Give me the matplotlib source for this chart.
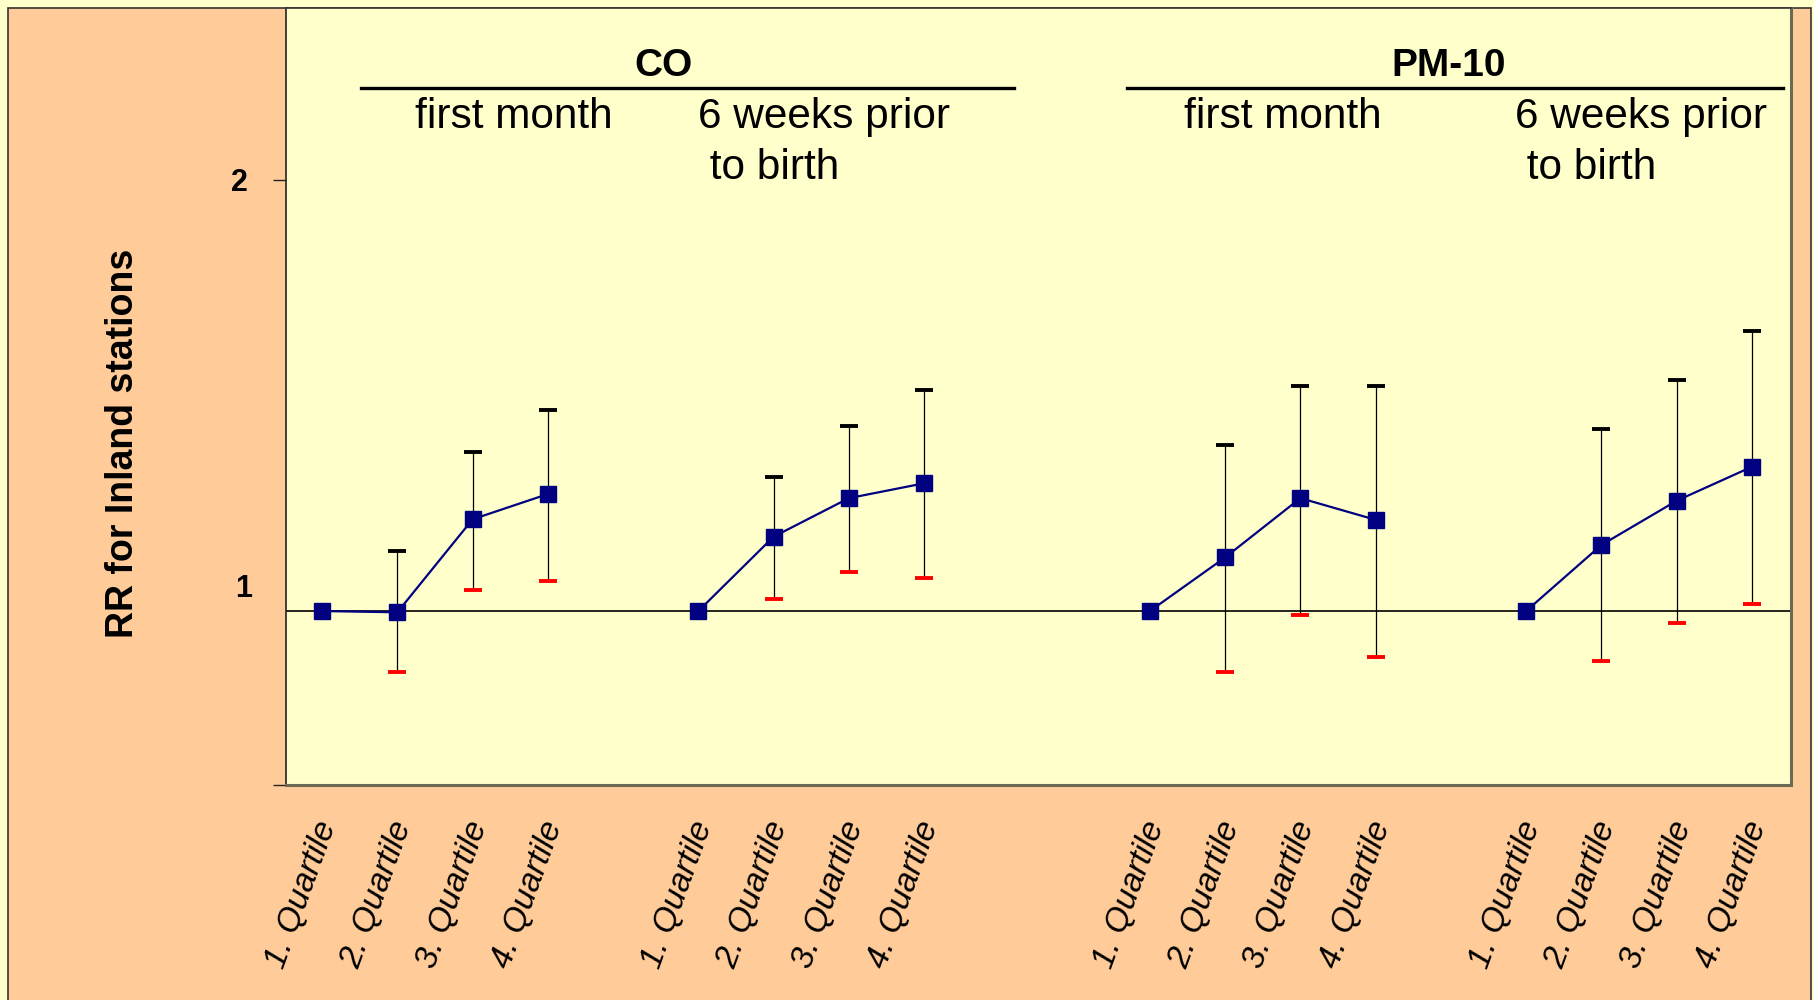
import matplotlib.pyplot as plt
import matplotlib.transforms as mtransforms
from matplotlib.patches import Rectangle
import numpy as np

plt.rcParams['font.family'] = ['Liberation Sans', 'DejaVu Sans']

# data: relative risks with confidence limits, 4 exposure windows x 4 quartiles
x_pos = [0, 1, 2, 3, 5, 6, 7, 8, 11, 12, 13, 14, 16, 17, 18, 19]
quartile_labels = ['1. Quartile', '2. Quartile', '3. Quartile', '4. Quartile'] * 4
rr = [1.00, 0.998, 1.159, 1.207,
      1.00, 1.127, 1.199, 1.228,
      1.00, 1.090, 1.199, 1.158,
      1.00, 1.112, 1.194, 1.261]
upper = [np.nan, 1.101, 1.292, 1.382,
         np.nan, 1.241, 1.346, 1.426,
         np.nan, 1.305, 1.435, 1.435,
         np.nan, 1.341, 1.450, 1.568]
lower = [np.nan, 0.907, 1.035, 1.050,
         np.nan, 1.019, 1.065, 1.054,
         np.nan, 0.907, 0.994, 0.929,
         np.nan, 0.923, 0.981, 1.011]

pollutants = ['CO', 'PM-10']
windows = ['first month', '6 weeks prior', ' to birth']

navy = '#000080'

fig = plt.figure(figsize=(18.14, 10), dpi=100, facecolor='#FFFFCC')
# orange panel behind the plot
panel = Rectangle((8 / 1814, -0.01), (1811 - 8) / 1814, 1.01 - 8 / 1000,
                  transform=fig.transFigure, facecolor='#FFCC99',
                  edgecolor='#333333', lw=1.2, zorder=-1)
fig.patches.append(panel)

ax = fig.add_axes([286 / 1814, 215 / 1000, 1505 / 1814, 777 / 1000])
ax.set_facecolor('#FFFFCC')
ax.set_yscale('log')
ax.set_ylim(0.756, 2.637)
ax.set_xlim(-0.48, 19.52)

# reference line at RR = 1
ax.axhline(1.0, color='black', lw=1.2, zorder=1)

x = np.array(x_pos)
rr_a = np.array(rr)
up = np.array(upper)
lo = np.array(lower)
has_ci = ~np.isnan(up)
ax.vlines(x[has_ci], lo[has_ci], up[has_ci], color='black', lw=0.9, zorder=2)
ax.plot(x[has_ci], up[has_ci], ls='none', marker='_', ms=12.5, mew=2.8,
        color='black', zorder=3)
ax.plot(x[has_ci], lo[has_ci], ls='none', marker='_', ms=12.5, mew=2.8,
        color='red', zorder=3)

for g in range(4):
    sl = slice(4 * g, 4 * g + 4)
    ax.plot(x[sl], rr_a[sl], color=navy, lw=1.6, marker='s', ms=11,
            mfc=navy, mec=navy, zorder=4)

# axes styling
ax.yaxis.set_minor_locator(plt.NullLocator())
ax.set_yticks([0.756, 2])
ax.set_yticklabels(['', '2'], fontsize=22, fontweight='bold')
ax.tick_params(axis='y', length=9.5, width=1, color='#222222', pad=18)
ax.set_xticks(x_pos)
ax.set_xticklabels(quartile_labels, fontsize=24, style='italic', rotation=70,
                   ha='right', va='center', rotation_mode='anchor')
ax.tick_params(axis='x', length=0, pad=27)
shift = mtransforms.ScaledTranslation(6 / 100, 0, fig.dpi_scale_trans)
for lab in ax.get_xticklabels():
    lab.set_transform(lab.get_transform() + shift)

ax.spines['left'].set_color('#222222')
ax.spines['left'].set_linewidth(1.2)
ax.spines['top'].set_color('#333333')
ax.spines['top'].set_linewidth(1.2)
for s in ['bottom', 'right']:
    ax.spines[s].set_color('#6b6b55')
    ax.spines[s].set_linewidth(2.2)

trans_y1 = mtransforms.blended_transform_factory(ax.transAxes, ax.transData)
ax.text(-0.0226, 1.0365, '1', transform=trans_y1, ha='right', va='center',
        fontsize=22, fontweight='bold')

fig.text(123 / 1814, 1 - 443 / 1000, 'RR for Inland stations', rotation=90,
         ha='center', va='center', fontsize=27, fontweight='bold')

# group headers
tr = mtransforms.blended_transform_factory(ax.transData, ax.transAxes)
ax.text(4.53, 0.9125, pollutants[0], transform=tr, ha='center', va='baseline',
        fontsize=28, fontweight='bold')
ax.text(14.97, 0.9125, pollutants[1], transform=tr, ha='center', va='baseline',
        fontsize=28, fontweight='bold')
ax.plot([0.52, 9.2], [0.897, 0.897], transform=tr, color='black', lw=2.4,
        clip_on=False)
ax.plot([10.69, 19.42], [0.897, 0.897], transform=tr, color='black', lw=2.4,
        clip_on=False)

for x0, x1 in [(1.235, 5.0), (11.45, 15.85)]:
    ax.text(x0, 0.8456, windows[0], transform=tr, ha='left', va='baseline',
            fontsize=30.5)
    ax.text(x1, 0.8456, windows[1], transform=tr, ha='left', va='baseline',
            fontsize=30.5)
    ax.text(x1, 0.780, windows[2], transform=tr, ha='left', va='baseline',
            fontsize=30.5)

fig.savefig('out.png', dpi=100, facecolor=fig.get_facecolor())
